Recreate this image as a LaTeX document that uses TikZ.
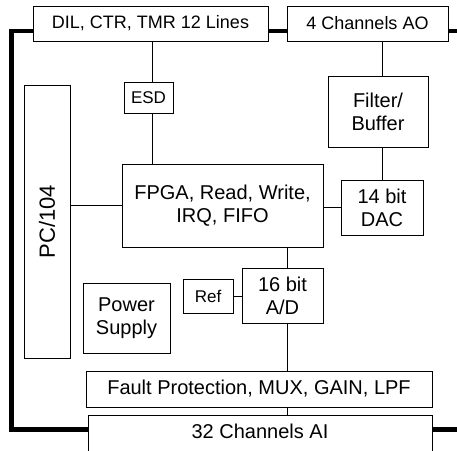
\documentclass[tikz,border=0pt]{standalone}
\usepackage{fontspec}
\setmainfont{Liberation Sans}
\usepackage{graphicx}
\usetikzlibrary{positioning}

\begin{document}
\begin{tikzpicture}[
    x=1pt, y=-1pt,
    blk/.style={rectangle, draw=black, line width=0.9pt, inner sep=0pt, align=center, font=\fontsize{20}{23}\selectfont},
    toplbl/.style={blk, font=\fontsize{18}{21}\selectfont},
    smallblk/.style={blk, font=\fontsize{17}{20}\selectfont},
    wire/.style={line width=0.9pt},
    bus/.style={line width=4.8pt},
]
\path[use as bounding box, clip] (0,0) rectangle (457,450);

% Outer connectors
\node[toplbl, minimum width=235pt, minimum height=35pt] (dil) at (150.5,23.5) {DIL, CTR, TMR 12 Lines};
\node[toplbl, minimum width=161pt, minimum height=35pt] (ao) at (367.5,23.5) {4 Channels AO};
\node[blk, anchor=north, minimum width=344pt, text height=23pt, text depth=40pt] (ai) at (260,415) {32 Channels AI};

% Board blocks
\node[smallblk, minimum width=49pt, minimum height=31pt] (esd) at (148.5,97.5) {ESD};
\node[blk, minimum width=201pt, minimum height=83pt] (fpga) at (222.5,205.5) {FPGA, Read, Write,\\IRQ, FIFO};
\node[blk, minimum width=46pt, minimum height=273pt, font=\fontsize{22}{26}\selectfont] (pc) at (47,221.5) {\rotatebox{90}{PC/104}};
\node[blk, minimum width=100pt, minimum height=71pt] (filt) at (378,111.5) {Filter/\\Buffer};
\node[blk, minimum width=82pt, minimum height=55pt] (dac) at (382,207.5) {14 bit\\DAC};
\node[blk, minimum width=81pt, minimum height=55pt] (ad) at (282.5,295.5) {16 bit\\A/D};
\node[smallblk, minimum width=50pt, minimum height=34pt] (ref) at (208,296) {Ref};
\node[blk, minimum width=87pt, minimum height=70pt] (pwr) at (126.5,318) {Power\\Supply};
\node[blk, minimum width=346pt, minimum height=36pt] (fault) at (259,389) {Fault Protection, MUX, GAIN, LPF};

% Signal lines
\draw[wire] ([xshift=3.5pt]esd.north) -- ([xshift=3.5pt]esd.north |- dil.south);
\draw[wire] ([xshift=3.5pt]esd.south) -- ([xshift=3.5pt]esd.south |- fpga.north);
\draw[wire] (fpga.west) -- (fpga.west -| pc.east);
\draw[wire] (dac.west) -- (dac.west -| fpga.east);
\draw[wire] (dac.north) -- (dac.north |- filt.south);
\draw[wire] (filt.north -| dac.north) -- (ao.south -| dac.north);
\draw[wire] (ref.east) -- (ref.east -| ad.west);
\draw[wire] ([xshift=4.5pt]ad.north) -- ([xshift=4.5pt]ad.north |- fpga.south);
\draw[wire] ([xshift=4.5pt]ad.south) -- ([xshift=4.5pt]ad.south |- fault.north);
\draw[wire] ([xshift=4.5pt]ad.south |- fault.south) -- ([xshift=4.5pt]ad.south |- ai.north);

% Thick bus
\coordinate (tl) at (11.5,31);
\coordinate (bl) at (11.5,429.5);
\coordinate (tr) at (457,31);
\coordinate (br) at (457,429.5);
\draw[bus] (dil.west |- tl) -- (tl) -- (bl) -- (ai.west |- bl);
\draw[bus] (dil.east |- tl) -- (ao.west |- tl);
\draw[bus] (ao.east |- tl) -- (tr);
\draw[bus] (ai.east |- br) -- (br);

\end{tikzpicture}
\end{document}
